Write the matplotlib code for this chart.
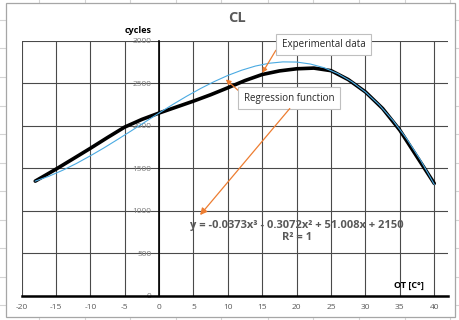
import matplotlib
matplotlib.use('Agg')
import matplotlib.pyplot as plt
from matplotlib.lines import Line2D
from matplotlib.patches import Rectangle

plt.rcParams['font.family'] = ['Open Sans', 'DejaVu Sans']
plt.rcParams['axes.unicode_minus'] = False

# experimental data (thick black curve)
exp_t = [-18, -15, -12.5, -10, -7.5, -5, -2.5, 0, 2.5, 5, 7.5, 10, 12.5, 15,
         17.5, 20, 22.5, 25, 27.5, 30, 32.5, 35, 37.5, 40]
exp_cycles = [1350, 1490, 1612, 1735, 1862, 1985, 2075, 2150, 2220, 2290, 2365,
              2447, 2532, 2603, 2645, 2670, 2678, 2648, 2543, 2398, 2203, 1948,
              1635, 1323]

# regression curve (thin blue)
reg_t = [-18, -16, -14, -12, -10, -8, -6, -4, -2, 0, 2, 4, 6, 8, 10, 12, 14,
         16, 18, 20, 22, 24, 26, 28, 30, 32, 34, 36, 38, 40]
reg_cycles = [1350, 1408, 1478, 1558, 1647, 1741, 1841, 1943, 2047, 2150, 2251,
              2347, 2437, 2519, 2592, 2653, 2702, 2735, 2751, 2749, 2726, 2682,
              2613, 2519, 2397, 2246, 2063, 1848, 1598, 1312]

x_ticks = [-20, -15, -10, -5, 0, 5, 10, 15, 20, 25, 30, 35, 40]
y_ticks = [0, 500, 1000, 1500, 2000, 2500, 3000]

equation = 'y = -0.0373x³ - 0.3072x² + 51.008x + 2150\nR² = 1'

W, H = 459, 320
fig = plt.figure(figsize=(W / 100, H / 100), dpi=100)
fig.patch.set_facecolor('white')

# faint spreadsheet cell lines behind the chart
for px in [39, 85, 130, 176, 221, 268, 313, 359, 405, 450]:
    fig.add_artist(Line2D([px / W, px / W], [0, 1], color='#d4d4d4', lw=0.8,
                          transform=fig.transFigure, zorder=-3))
for py in [20, 48, 77, 106, 134, 163, 191, 220, 248, 277, 305]:
    fig.add_artist(Line2D([0, 1], [1 - py / H, 1 - py / H], color='#d4d4d4',
                          lw=0.8, transform=fig.transFigure, zorder=-3))
# chart area
fig.add_artist(Rectangle((6 / W, 3 / H), 449 / W, 314 / H, facecolor='white',
                         edgecolor='#a6a6a6', lw=0.9, transform=fig.transFigure,
                         zorder=-2))

left, right, top, bottom = 21.5, 448, 40.7, 296
ax = fig.add_axes([left / W, 1 - bottom / H, (right - left) / W, (bottom - top) / H])
ax.set_facecolor('none')
ax.set_xlim(-20, 42)
ax.set_ylim(0, 3000)

ax.set_xticks(x_ticks)
ax.set_yticks(y_ticks)
ax.grid(True, color='#4a4a4a', lw=0.8)
ax.set_axisbelow(True)

for s in ['top', 'right']:
    ax.spines[s].set_visible(False)
ax.spines['left'].set_position(('data', 0))
ax.spines['left'].set_color('black')
ax.spines['left'].set_linewidth(1.2)
ax.spines['bottom'].set_color('black')
ax.spines['bottom'].set_linewidth(1.8)
ax.tick_params(axis='x', length=0, pad=5.5, labelsize=6, labelcolor='#595959')
ax.tick_params(axis='y', length=0, pad=5.5, labelsize=6, labelcolor='#7f7f7f')

ax.plot(exp_t, exp_cycles, color='black', lw=2.6, solid_capstyle='round',
        solid_joinstyle='round', zorder=3)
ax.plot(reg_t, reg_cycles, color='#4aaae2', lw=0.8, zorder=4)

# titles and axis names
fig.text(237 / W, 1 - 18 / H, 'CL', ha='center', va='center', fontsize=10.5,
         fontweight='bold', color='#595959')
fig.text(138.5 / W, 1 - 30.5 / H, 'cycles', ha='center', va='center',
         fontsize=6.5, fontweight='bold', color='black')
fig.text(409 / W, 1 - 285 / H, 'OT [C°]', ha='center', va='center',
         fontsize=6.5, fontweight='bold', color='black')

ax.text(20.0, 760, equation, ha='center', va='center',
        fontsize=8, fontweight='bold', color='#595959', linespacing=1.15,
        zorder=5)

box = dict(boxstyle='square,pad=0.55', facecolor='white', edgecolor='#bfbfbf',
           lw=0.8)
orange = '#ed7d31'

ax.annotate('Experimental data', xy=(15.0, 2621), xytext=(23.9, 2955),
            ha='center', va='center', fontsize=7, color='#262626', bbox=box,
            arrowprops=dict(arrowstyle='-|>,head_length=0.4,head_width=0.2',
                            color=orange, lw=0.9, relpos=(0, 0.85),
                            shrinkA=0, shrinkB=0),
            zorder=6)
ax.annotate('Regression function', xy=(9.7, 2545), xytext=(18.9, 2324),
            ha='center', va='center', fontsize=7, color='#262626', bbox=box,
            arrowprops=dict(arrowstyle='-|>,head_length=0.4,head_width=0.2',
                            color=orange, lw=0.9, relpos=(0, 0.75),
                            shrinkA=0, shrinkB=0),
            zorder=6)
ax.annotate('', xy=(5.96, 951), xytext=(19.0, 2203),
            arrowprops=dict(arrowstyle='-|>,head_length=0.4,head_width=0.2',
                            color=orange, lw=0.9, shrinkA=0, shrinkB=0),
            zorder=6)

plt.savefig('out.png', dpi=100)
